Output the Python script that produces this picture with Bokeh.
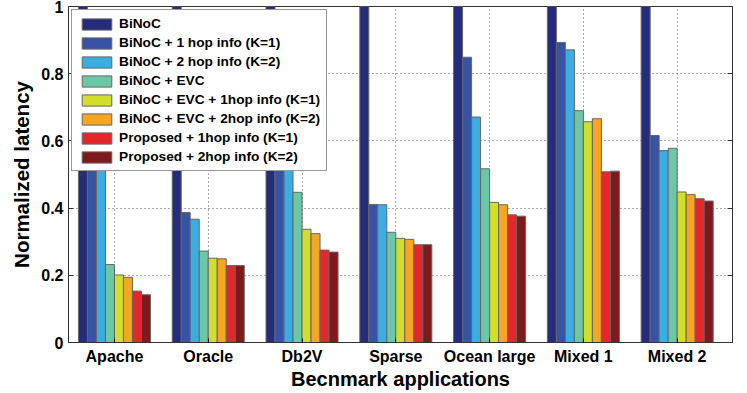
from bokeh.plotting import figure
from bokeh.models import ColumnDataSource, Range1d, LinearAxis, FixedTicker, Legend, LegendItem
from bokeh.transform import dodge
from bokeh.embed import file_html
from bokeh.resources import INLINE

categories = ["Apache", "Oracle", "Db2V", "Sparse", "Ocean large", "Mixed 1", "Mixed 2"]
series_names = [
    "BiNoC",
    "BiNoC + 1 hop info (K=1)",
    "BiNoC + 2 hop info (K=2)",
    "BiNoC + EVC",
    "BiNoC + EVC + 1hop info (K=1)",
    "BiNoC + EVC + 2hop info (K=2)",
    "Proposed + 1hop info (K=1)",
    "Proposed + 2hop info (K=2)",
]
binoc          = [1.0, 1.0, 1.0, 1.0, 1.0, 1.0, 1.0]
binoc_1hop     = [0.70, 0.387, 0.74, 0.411, 0.849, 0.893, 0.616]
binoc_2hop     = [0.66, 0.367, 0.70, 0.410, 0.671, 0.871, 0.571]
binoc_evc      = [0.232, 0.272, 0.447, 0.328, 0.517, 0.690, 0.578]
binoc_evc_1hop = [0.201, 0.251, 0.337, 0.310, 0.417, 0.657, 0.448]
binoc_evc_2hop = [0.194, 0.249, 0.324, 0.307, 0.410, 0.666, 0.440]
proposed_1hop  = [0.153, 0.229, 0.275, 0.291, 0.380, 0.508, 0.428]
proposed_2hop  = [0.142, 0.229, 0.269, 0.291, 0.376, 0.510, 0.421]
y_ticks = [0, 0.2, 0.4, 0.6, 0.8, 1]
y_tick_labels = ["0", "0.2", "0.4", "0.6", "0.8", "1"]

colors = ["#262c7c", "#3853a6", "#3aaee2", "#6cc7a6", "#d3dd2c", "#f6a623", "#e6262a", "#7e1a1c"]
series = [binoc, binoc_1hop, binoc_2hop, binoc_evc, binoc_evc_1hop, binoc_evc_2hop, proposed_1hop, proposed_2hop]

xpos = list(range(1, len(categories) + 1))
data = {"x": xpos}
for i, s in enumerate(series):
    data["s%d" % i] = s
source = ColumnDataSource(data)

FONT = "Liberation Sans"

p = figure(x_range=Range1d(0.51, 7.59), y_range=Range1d(0, 1),
           width=747, height=392, output_backend="svg", toolbar_location=None,
           min_border_left=68, min_border_right=15, min_border_top=6, min_border_bottom=0)
p.background_fill_color = "white"
p.outline_line_color = "#333333"
p.outline_line_width = 1

bw = 0.096
renderers = []
for i in range(8):
    off = (i - 3.5) * bw
    r = p.vbar(x=dodge("x", off), top="s%d" % i, width=bw, source=source,
               fill_color=colors[i], line_color="#666666", line_width=1)
    renderers.append(r)

# grids
p.xgrid.grid_line_color = "#555555"
p.xgrid.grid_line_dash = "1 3"
p.ygrid.grid_line_color = "#555555"
p.ygrid.grid_line_dash = "1 3"
p.ygrid.ticker = FixedTicker(ticks=[0.2, 0.4, 0.6, 0.8])

# y axis
yax = p.yaxis[0]
yax.ticker = FixedTicker(ticks=y_ticks)
yax.major_label_overrides = {t: l for t, l in zip(y_ticks, y_tick_labels)}
yax.major_tick_in = 5
yax.major_tick_out = 0
yax.minor_tick_line_color = None
yax.axis_line_color = "#333333"
yax.major_tick_line_color = "#333333"
yax.major_label_text_font = FONT
yax.major_label_text_font_style = "bold"
yax.major_label_text_font_size = "16px"
yax.major_label_text_color = "black"
yax.major_label_standoff = 5
yax.axis_label = "Normalized latency"
yax.axis_label_text_font = FONT
yax.axis_label_text_font_style = "bold"
yax.axis_label_text_font_size = "20.5px"
yax.axis_label_text_color = "black"
yax.axis_label_standoff = 5

# x axis
xax = p.xaxis[0]
xax.ticker = FixedTicker(ticks=xpos)
xax.major_label_overrides = {x: c for x, c in zip(xpos, categories)}
xax.major_tick_in = 4
xax.major_tick_out = 0
xax.minor_tick_line_color = None
xax.axis_line_color = "#333333"
xax.major_tick_line_color = "#111111"
xax.major_label_text_font = FONT
xax.major_label_text_font_style = "bold"
xax.major_label_text_font_size = "16px"
xax.major_label_text_color = "black"
xax.major_label_standoff = 5
xax.axis_label = "Becnmark applications"
xax.axis_label_text_font = FONT
xax.axis_label_text_font_style = "bold"
xax.axis_label_text_font_size = "20px"
xax.axis_label_text_color = "black"
xax.axis_label_standoff = 0
p.xgrid.ticker = FixedTicker(ticks=xpos)

# right axis with inward ticks only
rax = LinearAxis(ticker=FixedTicker(ticks=y_ticks), major_tick_in=5, major_tick_out=0,
                 minor_tick_line_color=None, major_label_text_font_size="0px",
                 major_label_standoff=0,
                 axis_line_color="#333333", major_tick_line_color="#333333")
p.add_layout(rax, "right")

items = [LegendItem(label=series_names[i], renderers=[renderers[i]]) for i in range(8)]
legend = Legend(items=items, location="top_left", margin=3, padding=6, spacing=4,
                glyph_width=37, glyph_height=14, label_height=14, label_standoff=4,
                label_text_font=FONT, label_text_font_style="bold", label_text_font_size="13.7px",
                label_text_color="black",
                border_line_color="#333333", border_line_width=1,
                background_fill_color="white", background_fill_alpha=1.0)
p.add_layout(legend)

open("out.html", "w").write(file_html(p, INLINE))
